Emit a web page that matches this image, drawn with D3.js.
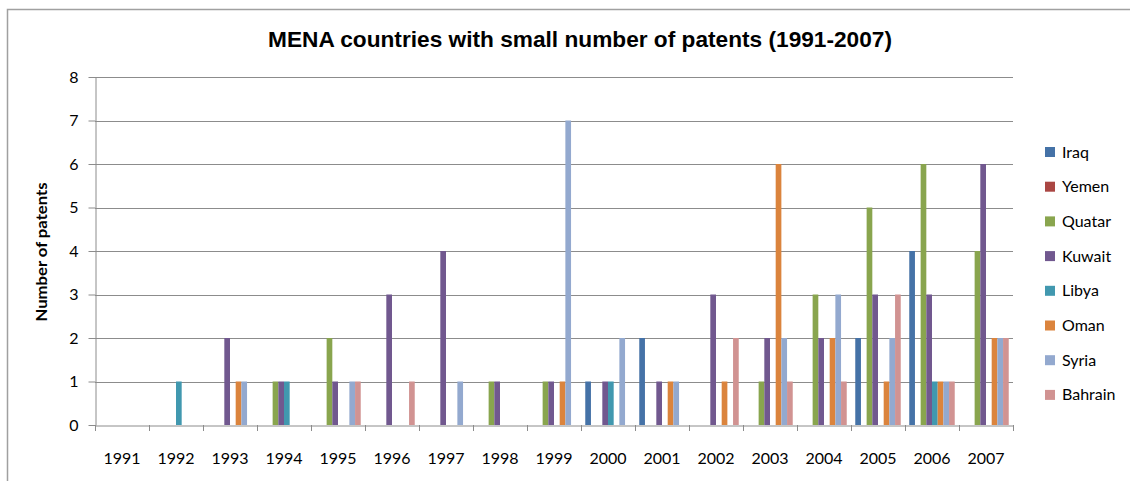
<!DOCTYPE html>
<html>
<head>
<meta charset="utf-8">
<script src="https://cdn.jsdelivr.net/npm/d3@7/dist/d3.min.js"></script>
<style>
  html, body { margin: 0; padding: 0; background: #fff; }
  svg { display: block; }
</style>
</head>
<body>
<svg id="chart" width="1130" height="481"></svg>
<script>
// Patent counts per country and year
const years = ["1991","1992","1993","1994","1995","1996","1997","1998","1999","2000","2001","2002","2003","2004","2005","2006","2007"];
const countries = ["Iraq","Yemen","Quatar","Kuwait","Libya","Oman","Syria","Bahrain"];
const colors = ["#4572A7","#AA4643","#89A54E","#71588F","#4198AF","#DB843D","#93A9CF","#D19392"];

const iraq    = [0,0,0,0,0,0,0,0,0,1,2,0,0,0,2,4,0];
const yemen   = [0,0,0,0,0,0,0,0,0,0,0,0,0,0,0,0,0];
const quatar  = [0,0,0,1,2,0,0,1,1,0,0,0,1,3,5,6,4];
const kuwait  = [0,0,2,1,1,3,4,1,1,1,1,3,2,2,3,3,6];
const libya   = [0,1,0,1,0,0,0,0,0,1,0,0,0,0,0,1,0];
const oman    = [0,0,1,0,0,0,0,0,1,0,1,1,6,2,1,1,2];
const syria   = [0,0,1,0,1,0,1,0,7,2,1,0,2,3,2,1,2];
const bahrain = [0,0,0,0,1,1,0,0,0,0,0,2,1,1,3,1,2];

const yTicks = [0,1,2,3,4,5,6,7,8];

const seriesValues = [iraq, yemen, quatar, kuwait, libya, oman, syria, bahrain];
const table = years.map((yr, i) => ({
  year: yr,
  values: countries.map((c, j) => ({ country: c, value: seriesValues[j][i], color: colors[j] }))
}));

const svg = d3.select("#chart");
const plot = { left: 95, right: 1013, top: 77, bottom: 425 };
const bodyFont = "Lato, 'Open Sans', 'Liberation Sans', sans-serif";

// Chart frame
svg.append("path")
  .attr("d", "M7.5,481 L7.5,9.5 L1130,9.5")
  .attr("fill", "none").attr("stroke", "#a0a0a0").attr("stroke-width", 1.5);

const x0 = d3.scaleBand().domain(years).range([plot.left, plot.right]).paddingInner(0).paddingOuter(0);
const x1 = d3.scaleBand().domain(countries).range([0, x0.bandwidth()]).paddingInner(0).paddingOuter(0.75);
const y = d3.scaleLinear().domain([0, 8]).range([plot.bottom, plot.top]);

// Horizontal gridlines
svg.append("g")
  .selectAll("line").data(yTicks.filter(t => t > 0)).join("line")
  .attr("x1", plot.left).attr("x2", plot.right)
  .attr("y1", d => Math.round(y(d)) + 0.5).attr("y2", d => Math.round(y(d)) + 0.5)
  .attr("stroke", "#8c8c8c").attr("stroke-width", 1);

// Bars
const groups = svg.append("g").selectAll("g").data(table).join("g")
  .attr("transform", d => `translate(${x0(d.year)},0)`);
groups.selectAll("rect").data(d => d.values.filter(v => v.value > 0)).join("rect")
  .attr("x", d => x1(d.country))
  .attr("width", x1.bandwidth())
  .attr("y", d => y(d.value))
  .attr("height", d => y(0) - y(d.value))
  .attr("fill", d => d.color);

// Y axis
const yAxis = svg.append("g")
  .attr("transform", `translate(${plot.left + 0.5},0)`)
  .call(d3.axisLeft(y).tickValues(yTicks).tickSize(7).tickPadding(10).tickSizeOuter(0));
yAxis.select(".domain").attr("stroke", "#8c8c8c");
yAxis.selectAll(".tick line").attr("stroke", "#8c8c8c");
yAxis.selectAll(".tick text").attr("font-family", bodyFont).attr("font-size", 16).attr("fill", "#000");

// X axis
const xAxis = svg.append("g")
  .attr("transform", `translate(0,${plot.bottom + 0.5})`)
  .call(d3.axisBottom(x0).tickSize(0).tickPadding(27));
xAxis.select(".domain").attr("stroke", "#8c8c8c");
xAxis.selectAll(".tick text").attr("font-family", bodyFont).attr("font-size", 16).attr("fill", "#000");
// Category separators
svg.append("g").selectAll("line")
  .data(years.concat(["end"])).join("line")
  .attr("x1", (d, i) => Math.round(plot.left + i * x0.step()) + 0.5)
  .attr("x2", (d, i) => Math.round(plot.left + i * x0.step()) + 0.5)
  .attr("y1", plot.bottom).attr("y2", plot.bottom + 6)
  .attr("stroke", "#8c8c8c");

// Title
svg.append("text")
  .attr("x", 580).attr("y", 47)
  .attr("text-anchor", "middle")
  .attr("font-family", "'Liberation Sans Narrow', 'Arial Narrow', 'Liberation Sans', sans-serif")
  .attr("font-weight", "bold").attr("font-size", 22)
  .attr("textLength", 624).attr("lengthAdjust", "spacingAndGlyphs")
  .text("MENA countries with small number of patents (1991-2007)");

// Y axis title
svg.append("text")
  .attr("transform", "translate(47,252) rotate(-90)")
  .attr("text-anchor", "middle")
  .attr("font-family", bodyFont).attr("font-weight", "bold").attr("font-size", 16)
  .attr("textLength", 139).attr("lengthAdjust", "spacingAndGlyphs")
  .text("Number of patents");

// Legend
const legend = svg.append("g").selectAll("g").data(countries).join("g")
  .attr("transform", (d, i) => `translate(1045,${152 + i * 34.7})`);
legend.append("rect")
  .attr("x", 0).attr("y", -5).attr("width", 10).attr("height", 10)
  .attr("fill", (d, i) => colors[i]);
legend.append("text")
  .attr("x", 17).attr("y", 5.5)
  .attr("font-family", bodyFont).attr("font-size", 16)
  .text(d => d);
</script>
</body>
</html>
